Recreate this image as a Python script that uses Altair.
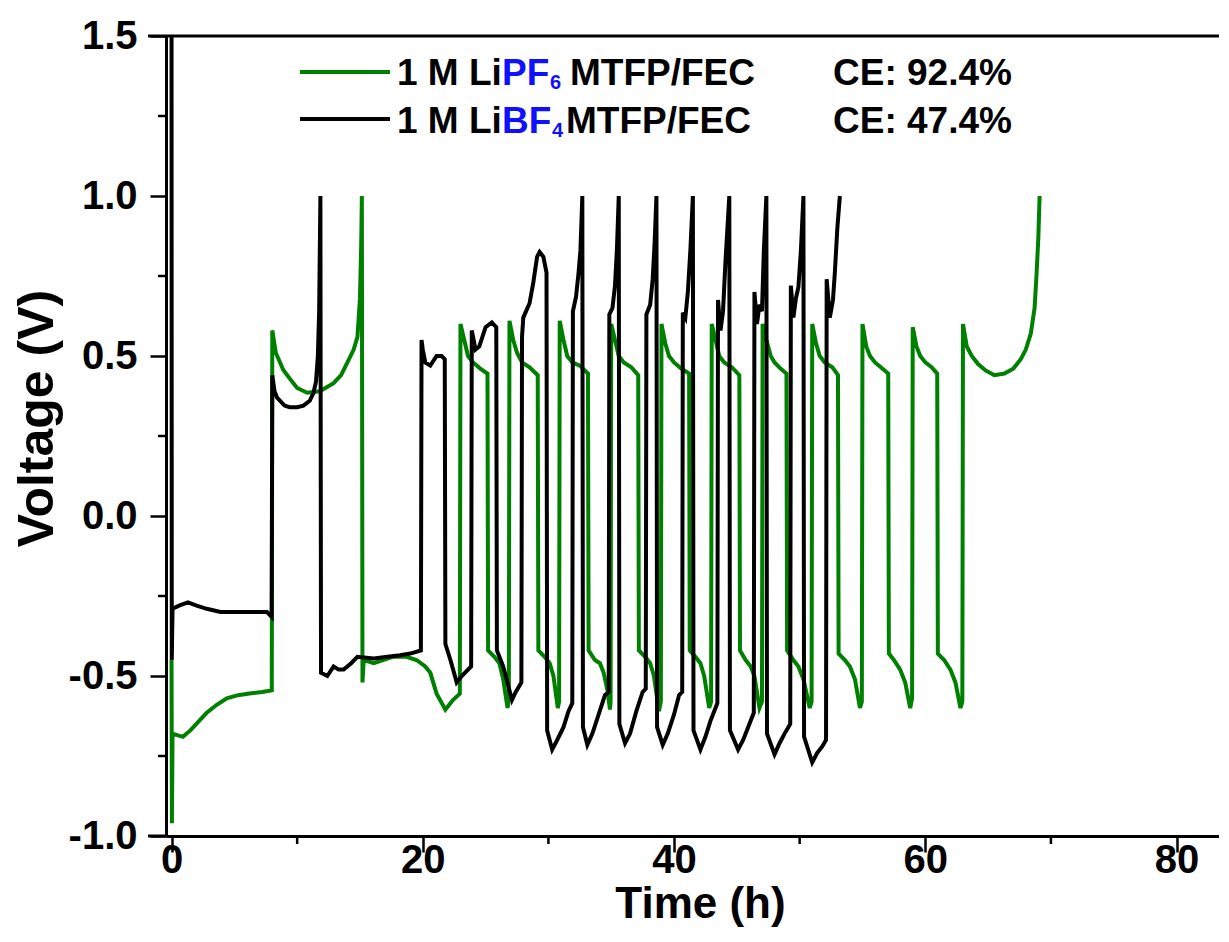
import altair as alt
import pandas as pd

# ---------------- data ----------------
pf6_t = [0.0, 0.03, 0.08, 0.9, 1.5, 2.2, 2.8, 3.6, 4.4, 5.3, 6.2, 7.2, 7.98,
         8.02, 8.3, 8.9, 9.4, 10.0, 10.8, 11.8, 12.9, 13.5, 14.0, 14.5, 14.8, 15.0, 15.1, 15.15,
         15.2, 15.3, 16.1, 17.6, 18.7, 19.5, 20.2, 20.6, 21.1, 21.8, 22.4, 22.95,
         23.0, 23.3, 23.6, 24.0, 24.6, 25.15,
         25.2, 25.7, 26.1, 26.4, 26.75, 26.85,
         26.9, 27.2, 27.5, 27.9, 28.5, 29.15,
         29.2, 29.7, 30.1, 30.4, 30.75, 30.85,
         30.9, 31.2, 31.5, 31.9, 32.5, 33.15,
         33.2, 33.7, 34.1, 34.4, 34.7, 34.9, 34.95,
         35.0, 35.3, 35.6, 36.0, 36.6, 37.15,
         37.2, 37.7, 38.1, 38.4, 38.8, 38.95,
         39.0, 39.3, 39.6, 40.0, 40.6, 41.2,
         41.25, 41.7, 42.1, 42.4, 42.8, 42.95,
         43.0, 43.3, 43.6, 44.0, 44.6, 45.2,
         45.25, 45.7, 46.1, 46.4, 46.8, 47.0,
         47.05, 47.35, 47.7, 48.0, 48.5, 48.95,
         49.0, 49.5, 49.9, 50.3, 50.8, 50.95,
         51.0, 51.3, 51.6, 52.0, 52.6, 53.05,
         53.1, 53.6, 54.0, 54.4, 54.8, 54.95,
         55.0, 55.3, 55.6, 56.0, 56.6, 57.05,
         57.1, 57.5, 58.0, 58.4, 58.8, 58.95,
         59.0, 59.3, 59.6, 60.0, 60.5, 60.95,
         61.0, 61.5, 62.0, 62.4, 62.8, 62.95,
         63.0, 63.3, 63.7, 64.2, 64.8, 65.5, 66.3, 67.0, 67.6, 68.0, 68.4, 68.7, 68.85, 69.0, 69.1]
pf6_v = [-0.45, -0.96, -0.68, -0.69, -0.67, -0.64, -0.615, -0.59, -0.57, -0.56, -0.555, -0.55, -0.545,
         0.58, 0.51, 0.456, 0.43, 0.40, 0.385, 0.39, 0.415, 0.44, 0.48, 0.52, 0.56, 0.68, 0.85, 1.0,
         -0.52, -0.45, -0.46, -0.44, -0.44, -0.45, -0.47, -0.49, -0.555, -0.605, -0.575, -0.555,
         0.60, 0.55, 0.50, 0.48, 0.46, 0.445,
         -0.42, -0.44, -0.46, -0.51, -0.60, -0.57,
         0.61, 0.55, 0.51, 0.48, 0.465, 0.44,
         -0.42, -0.44, -0.46, -0.50, -0.60, -0.58,
         0.61, 0.55, 0.50, 0.48, 0.47, 0.445,
         -0.42, -0.45, -0.46, -0.49, -0.545, -0.605, -0.58,
         0.60, 0.55, 0.50, 0.48, 0.465, 0.44,
         -0.42, -0.44, -0.46, -0.50, -0.61, -0.58,
         0.60, 0.54, 0.50, 0.48, 0.46, 0.445,
         -0.42, -0.44, -0.46, -0.50, -0.60, -0.58,
         0.60, 0.55, 0.50, 0.48, 0.465, 0.44,
         -0.42, -0.45, -0.47, -0.50, -0.60, -0.58,
         0.60, 0.55, 0.50, 0.48, 0.46, 0.445,
         -0.42, -0.45, -0.47, -0.51, -0.60, -0.58,
         0.60, 0.54, 0.50, 0.48, 0.465, 0.44,
         -0.43, -0.45, -0.47, -0.51, -0.60, -0.58,
         0.60, 0.53, 0.50, 0.48, 0.46, 0.445,
         -0.43, -0.45, -0.48, -0.52, -0.60, -0.57,
         0.59, 0.53, 0.50, 0.48, 0.465, 0.445,
         -0.43, -0.45, -0.48, -0.52, -0.60, -0.58,
         0.60, 0.53, 0.50, 0.475, 0.455, 0.44, 0.445, 0.46, 0.49, 0.52, 0.57, 0.65, 0.75, 0.87, 1.0]

bf4_t = [0.0, 0.02, 0.08, 0.6, 1.3, 2.0, 2.8, 3.9, 5.5, 7.6, 7.97,
         8.02, 8.2, 8.4, 9.0, 9.4, 10.0, 10.5, 11.0, 11.3, 11.5, 11.65, 11.75, 11.85,
         11.9, 12.4, 12.9, 13.3, 13.7, 14.3, 14.8, 16.1, 17.2, 18.2, 19.0, 19.85,
         19.9, 20.0, 20.2, 20.6, 21.1, 21.5, 21.75,
         21.8, 22.2, 22.7, 23.1, 23.85,
         23.9, 24.2, 24.5, 25.0, 25.5, 25.85,
         25.9, 26.4, 26.8, 27.1, 27.4, 27.85,
         27.9, 28.0, 28.5, 28.8, 29.1, 29.3, 29.6, 29.85,
         29.9, 30.3, 30.7, 31.2, 31.6, 31.9,
         31.95, 32.2, 32.4, 32.55, 32.7,
         32.75, 33.1, 33.5, 34.0, 34.5, 34.8,
         34.85, 35.1, 35.3, 35.45, 35.6,
         35.65, 36.1, 36.5, 37.0, 37.5, 37.75,
         37.8, 38.1, 38.3, 38.45, 38.6,
         38.65, 39.1, 39.5, 40.0, 40.4, 40.65,
         40.7, 40.9, 41.1, 41.3, 41.5,
         41.55, 42.1, 42.5, 42.9, 43.3, 43.45,
         43.5, 43.7, 43.9, 44.1, 44.4,
         44.45, 45.1, 45.5, 45.9, 46.2, 46.35,
         46.4, 46.6, 46.8, 47.0, 47.15, 47.35,
         47.4, 48.0, 48.4, 48.8, 49.1, 49.25,
         49.3, 49.5, 49.7, 49.9, 50.1, 50.3,
         50.35, 51.0, 51.4, 51.8, 52.1,
         52.15, 52.4, 52.65, 52.8, 53.0, 53.2]
bf4_v = [1.6, -0.45, -0.29, -0.28, -0.27, -0.28, -0.29, -0.30, -0.30, -0.30, -0.315,
         0.44, 0.39, 0.37, 0.345, 0.34, 0.34, 0.345, 0.36, 0.385, 0.42, 0.50, 0.64, 1.0,
         -0.49, -0.50, -0.47, -0.48, -0.48, -0.46, -0.44, -0.445, -0.44, -0.435, -0.43, -0.42,
         0.55, 0.52, 0.48, 0.47, 0.50, 0.50, 0.49,
         -0.40, -0.45, -0.52, -0.50, -0.47,
         0.58, 0.52, 0.53, 0.59, 0.605, 0.59,
         -0.42, -0.47, -0.53, -0.575, -0.55, -0.52,
         0.56, 0.62, 0.665, 0.73, 0.81, 0.825, 0.81, 0.76,
         -0.67, -0.73, -0.70, -0.66, -0.61, -0.585,
         0.64, 0.685, 0.76, 0.83, 1.0,
         -0.66, -0.715, -0.68, -0.62, -0.56, -0.55,
         0.63, 0.65, 0.72, 0.83, 1.0,
         -0.65, -0.71, -0.68, -0.61, -0.55, -0.54,
         0.63, 0.66, 0.74, 0.85, 1.0,
         -0.66, -0.715, -0.68, -0.62, -0.56, -0.55,
         0.635, 0.62, 0.70, 0.83, 1.0,
         -0.67, -0.73, -0.69, -0.64, -0.60, -0.585,
         0.675, 0.58, 0.64, 0.80, 1.0,
         -0.67, -0.73, -0.70, -0.66, -0.63, -0.615,
         0.70, 0.60, 0.66, 0.64, 0.83, 1.0,
         -0.68, -0.745, -0.71, -0.68, -0.66, -0.65,
         0.72, 0.62, 0.68, 0.715, 0.83, 1.0,
         -0.69, -0.77, -0.74, -0.72, -0.70,
         0.74, 0.62, 0.675, 0.76, 0.90, 1.0]

x_major = [0, 20, 40, 60, 80]
x_minor = [10, 30, 50, 70]
y_major = [-1.0, -0.5, 0.0, 0.5, 1.0, 1.5]
y_minor = [-0.75, -0.25, 0.25, 0.75, 1.25]

ce_labels = ["CE: 92.4%", "CE: 47.4%"]

# ---------------- styling ----------------
FONT = "Liberation Sans"
GREEN = "#008000"
BLUE = "#1010ff"
W, H = 1053, 800

xscale = alt.Scale(domain=[-0.44, 83.38], nice=False, zero=False)
yscale = alt.Scale(domain=[-1.0, 1.5], nice=False, zero=False)

xaxis = alt.Axis(values=x_major, format="d", title="Time (h)", grid=False,
                 labelFont=FONT, labelFontSize=40, labelFontWeight="bold", labelColor="black",
                 labelPadding=-12, labelFlush=False, labelOverlap=False,
                 tickSize=16, tickWidth=2.5, tickColor="black",
                 domainColor="black", domainWidth=3,
                 titleFont=FONT, titleFontSize=44, titleFontWeight="bold", titleColor="black",
                 titleX=534, titleY=81, titleBaseline="alphabetic", titleAlign="center")
yaxis = alt.Axis(values=y_major, title="Voltage (V)", grid=False,
                 labelExpr="datum.value < 0 ? '-' + format(-datum.value, '.1f') : format(datum.value, '.1f')",
                 labelFont=FONT, labelFontSize=40, labelFontWeight="bold", labelColor="black",
                 labelPadding=13, labelFlush=False, labelOverlap=False,
                 tickSize=16, tickWidth=2.5, tickColor="black",
                 domainColor="black", domainWidth=3,
                 titleFont=FONT, titleFontSize=50, titleFontWeight="bold", titleColor="black",
                 titleX=-114, titleY=382, titleAngle=-90, titleBaseline="alphabetic", titleAlign="center")

df_pf6 = pd.DataFrame({"t": pf6_t, "v": pf6_v, "i": list(range(len(pf6_t)))})
df_bf4 = pd.DataFrame({"t": bf4_t, "v": bf4_v, "i": list(range(len(bf4_t)))})

def series(df, color):
    return alt.Chart(df).mark_line(color=color, strokeWidth=4, clip=True,
                                   strokeJoin="miter", interpolate="linear").encode(
        x=alt.X("t:Q", scale=xscale, axis=xaxis),
        y=alt.Y("v:Q", scale=yscale, axis=yaxis),
        order="i:Q",
    )

green = series(df_pf6, GREEN)
black = series(df_bf4, "black")

xminor = alt.Chart(pd.DataFrame({"t": x_minor})).mark_rule(color="black", strokeWidth=2.5).encode(
    x=alt.X("t:Q", scale=xscale, axis=xaxis), y=alt.value(H), y2=alt.value(H + 8))
yminor = alt.Chart(pd.DataFrame({"v": y_minor})).mark_rule(color="black", strokeWidth=2.5).encode(
    y=alt.Y("v:Q", scale=yscale, axis=yaxis), x=alt.value(-8), x2=alt.value(0))

one = pd.DataFrame({"k": [0]})

def hrule(x1, x2, y, color="black", sw=3):
    return alt.Chart(one).mark_rule(color=color, strokeWidth=sw).encode(
        x=alt.value(x1), x2=alt.value(x2), y=alt.value(y))

def txt(s, x, y, color="black", size=37):
    return alt.Chart(one).mark_text(text=s, align="left", baseline="alphabetic", font=FONT,
                                    fontSize=size, fontWeight="bold", color=color).encode(
        x=alt.value(x), y=alt.value(y))

# white strip that hides any edge line on the open right side of the frame
cover = alt.Chart(one).mark_rule(color="white", strokeWidth=4).encode(
    x=alt.value(W - 1), y=alt.value(2), y2=alt.value(H - 2))

frame = [hrule(-18, W, 0), hrule(-18, 0, H)]

legend = [
    hrule(134, 224, 36, GREEN, 4),
    txt("1 M Li", 231, 49), txt("PF", 336, 49, BLUE), txt("6", 384, 53, BLUE, 20),
    txt("MTFP/FEC", 404, 49), txt(ce_labels[0], 667, 49),
    hrule(134, 224, 83, "black", 4),
    txt("1 M Li", 231, 97), txt("BF", 336, 97, BLUE), txt("4", 386, 101, BLUE, 20),
    txt("MTFP/FEC", 400, 97), txt(ce_labels[1], 667, 97),
]

chart = alt.layer(green, black, xminor, yminor, cover, *frame, *legend).properties(
    width=W, height=H,
    padding={"left": 158, "top": 28, "right": 0, "bottom": 92},
    autosize=alt.AutoSizeParams(type="none"),
    background="white",
).configure_view(stroke="transparent", strokeWidth=0)

chart.save("out.html", embed_options={"renderer": "svg", "actions": False})
